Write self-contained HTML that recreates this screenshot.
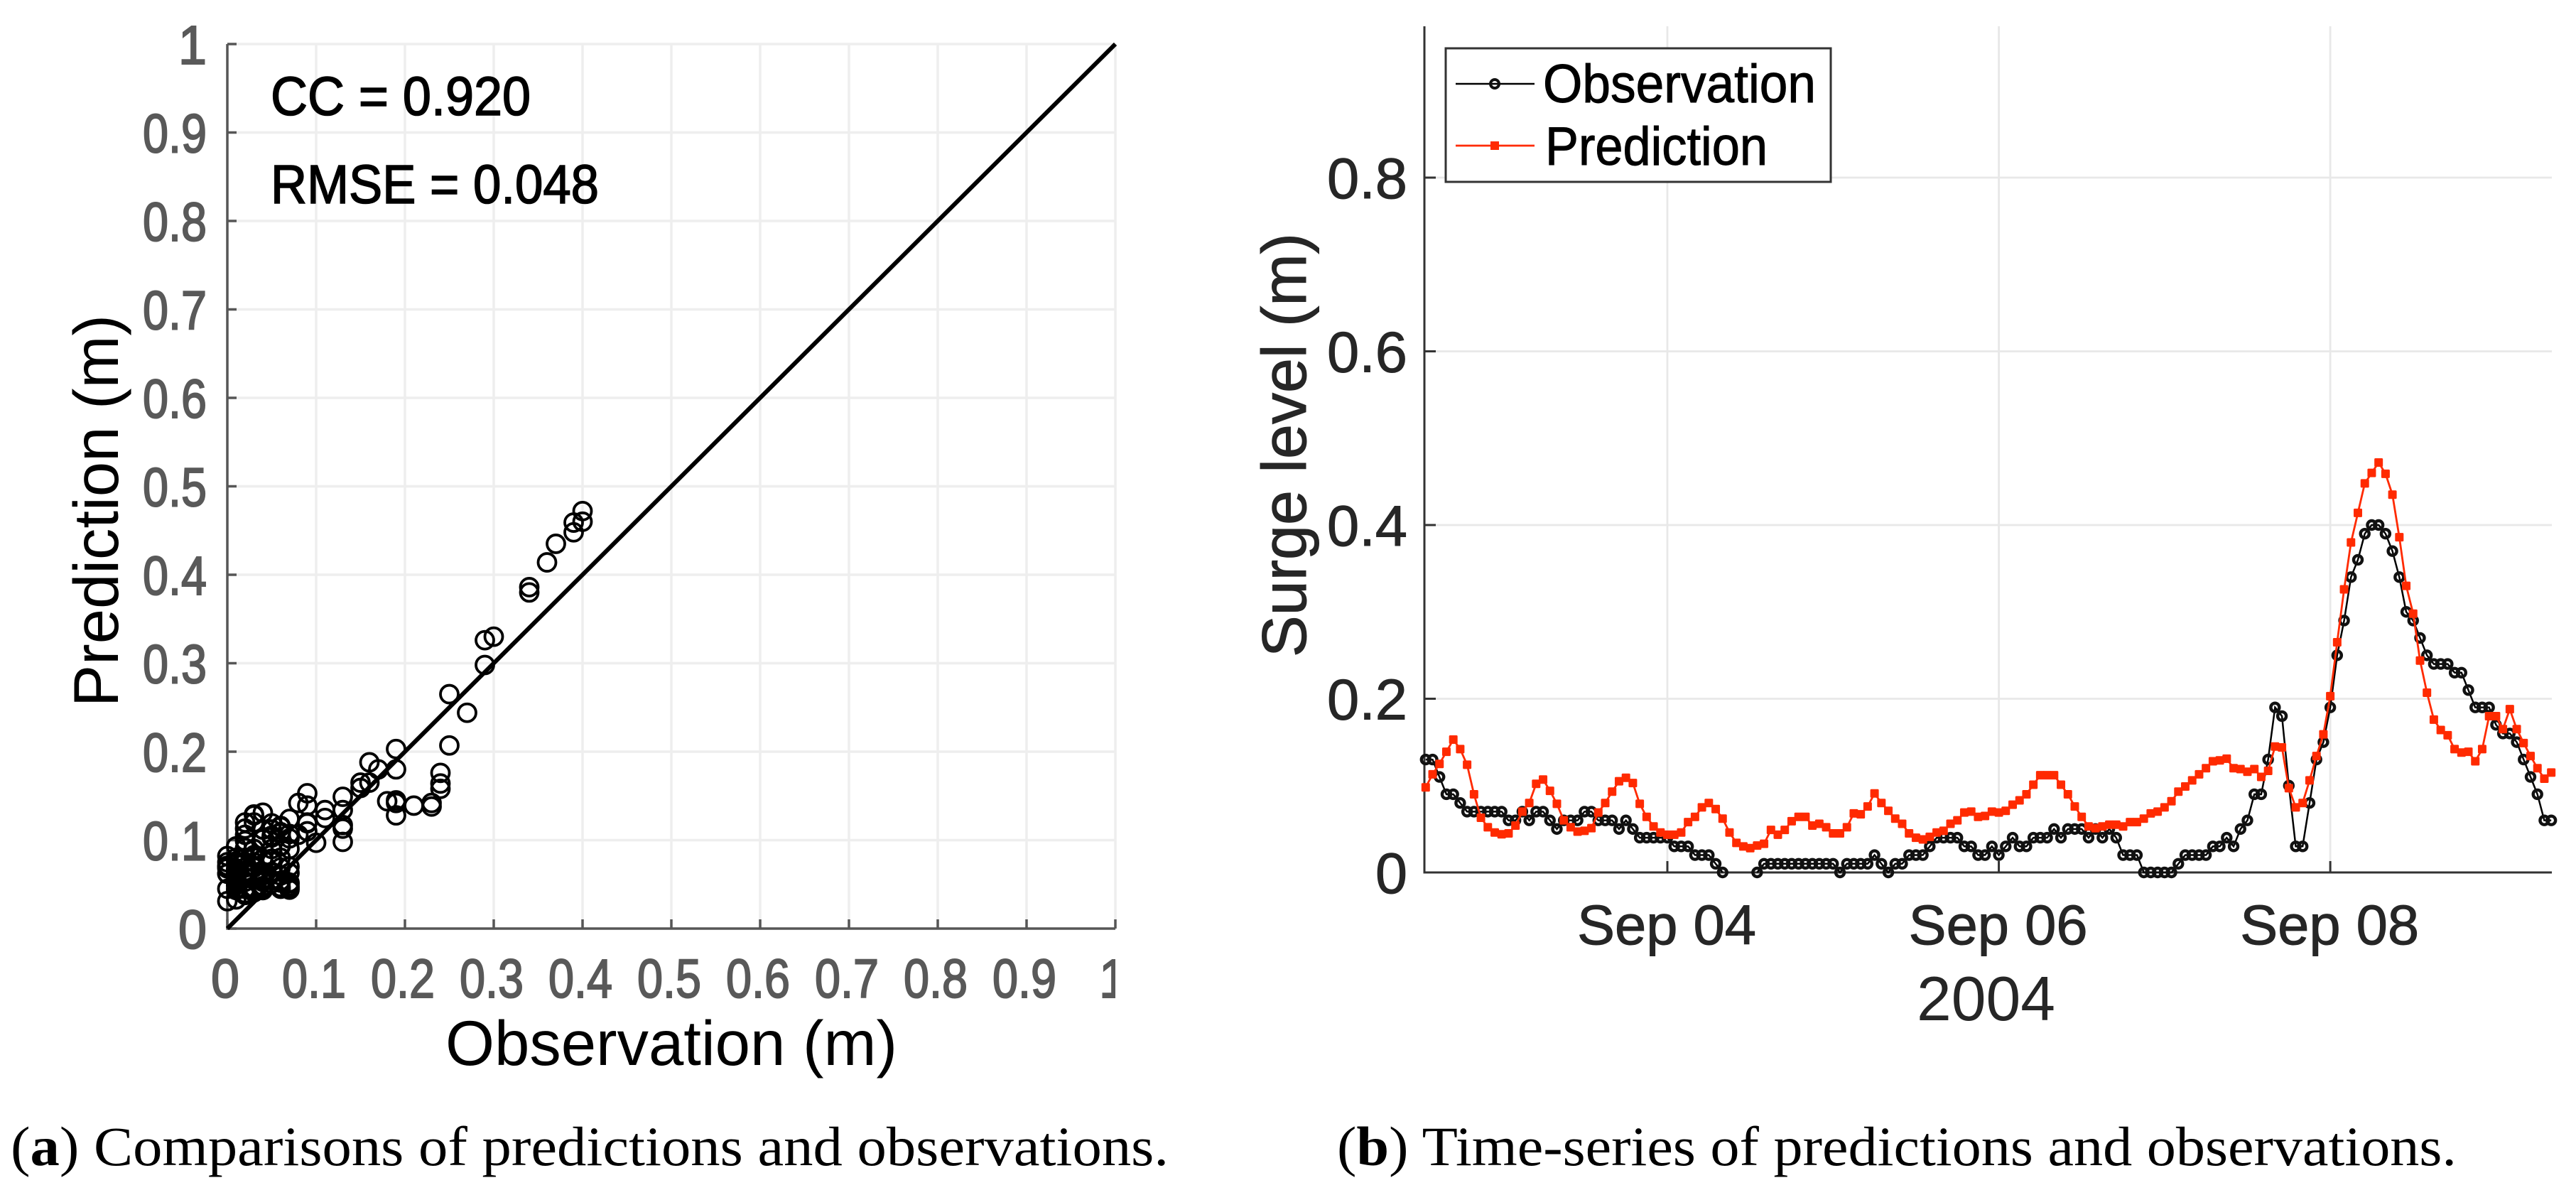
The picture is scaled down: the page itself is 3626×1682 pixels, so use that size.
<!DOCTYPE html>
<html lang="en">
<head>
<meta charset="utf-8">
<title>Surge predictions and observations</title>
<style>
html,body{margin:0;padding:0;background:#fff;}
svg{display:block;}
text{font-family:"Liberation Sans","Noto Sans CJK JP",sans-serif;}
.cap{font-family:"Liberation Serif","Noto Serif CJK SC",serif;font-size:78px;fill:#000;}
</style>
</head>
<body>
<svg id="fig" xmlns="http://www.w3.org/2000/svg" width="3626" height="1682" viewBox="0 0 3626 1682">
<defs>
<clipPath id="clipA"><rect x="100" y="0" width="1470" height="1682"/></clipPath>
</defs>
<rect x="0" y="0" width="3626" height="1682" fill="#fff"/>
<g id="panelA"></g>
<g id="panelB"></g>

<text x="381" y="162" font-size="77" fill="#000" stroke="#000" stroke-width="1.6" textLength="366" lengthAdjust="spacingAndGlyphs">CC = 0.920</text>
<text x="381" y="286" font-size="77" fill="#000" stroke="#000" stroke-width="1.6" textLength="462" lengthAdjust="spacingAndGlyphs">RMSE = 0.048</text>
<text x="627" y="1499" font-size="89" fill="#000" textLength="636" lengthAdjust="spacingAndGlyphs">Observation (m)</text>
<text transform="translate(166,995) rotate(-90)" font-size="89" fill="#000" textLength="552" lengthAdjust="spacingAndGlyphs">Prediction (m)</text>

<text transform="translate(1838,925) rotate(-90)" font-size="88" fill="#262626" stroke="#262626" stroke-width="1" textLength="597" lengthAdjust="spacingAndGlyphs">Surge level (m)</text>
<text x="2698" y="1436" font-size="88" fill="#262626" textLength="195" lengthAdjust="spacingAndGlyphs">2004</text>

<g>
<rect x="2035" y="68" width="542" height="188" fill="#fff" stroke="#333" stroke-width="3"/>
<line x1="2049" y1="118" x2="2160" y2="118" stroke="#000" stroke-width="2.5"/>
<circle cx="2104" cy="118" r="6" fill="none" stroke="#111" stroke-width="4"/>
<text x="2172" y="144" font-size="76" fill="#000" stroke="#000" stroke-width="1" textLength="384" lengthAdjust="spacingAndGlyphs">Observation</text>
<line x1="2049" y1="205" x2="2160" y2="205" stroke="#ff2a00" stroke-width="2.8"/>
<rect x="2098" y="199" width="12" height="12" fill="#ff2a00"/>
<text x="2175" y="232" font-size="76" fill="#000" stroke="#000" stroke-width="1" textLength="313" lengthAdjust="spacingAndGlyphs">Prediction</text>
</g>

<text class="cap" x="15" y="1640" textLength="1630" lengthAdjust="spacingAndGlyphs">(<tspan font-weight="bold">a</tspan>) Comparisons of predictions and observations.</text>
<text class="cap" x="1882" y="1640" textLength="1576" lengthAdjust="spacingAndGlyphs">(<tspan font-weight="bold">b</tspan>) Time-series of predictions and observations.</text>
</svg>

<script>
// Hourly series from Sep 2 2004 13:00; null = below the visible range
const observation = [
0.13,0.13,0.11,0.09,0.09,0.08,0.07,0.07,0.07,0.07,0.07,0.07,0.06,0.06,0.07,0.06,0.07,0.07,0.06,0.05,
0.06,0.06,0.06,0.07,0.07,0.06,0.06,0.06,0.05,0.06,0.05,0.04,0.04,0.04,0.04,0.04,0.03,0.03,0.03,0.02,
0.02,0.02,0.01,0,null,null,null,null,0,0.01,0.01,0.01,0.01,0.01,0.01,0.01,0.01,0.01,0.01,0.01,
0,0.01,0.01,0.01,0.01,0.02,0.01,0,0.01,0.01,0.02,0.02,0.02,0.03,0.04,0.04,0.04,0.04,0.03,0.03,
0.02,0.02,0.03,0.02,0.03,0.04,0.03,0.03,0.04,0.04,0.04,0.05,0.04,0.05,0.05,0.05,0.04,0.05,0.04,0.05,
0.04,0.02,0.02,0.02,0,0,0,0,0,0.01,0.02,0.02,0.02,0.02,0.03,0.03,0.04,0.03,0.05,0.06,
0.09,0.09,0.13,0.19,0.18,0.10,0.03,0.03,0.08,0.13,0.15,0.19,0.25,0.29,0.34,0.36,0.39,0.40,0.40,0.39,
0.37,0.34,0.30,0.29,0.27,0.25,0.24,0.24,0.24,0.23,0.23,0.21,0.19,0.19,0.19,0.17,0.16,0.16,0.15,0.13,
0.11,0.09,0.06,0.06];
const prediction = [
0.098,0.113,0.125,0.139,0.153,0.142,0.124,0.090,0.063,0.052,0.046,0.044,0.045,0.054,0.070,0.080,0.102,0.107,0.094,0.079,
0.060,0.052,0.047,0.048,0.051,0.069,0.080,0.093,0.105,0.109,0.103,0.079,0.064,0.053,0.046,0.0435,0.0435,0.046,0.058,0.064,
0.075,0.080,0.073,0.062,0.046,0.034,0.030,0.028,0.031,0.033,0.049,0.0435,0.049,0.059,0.064,0.064,0.054,0.056,0.052,0.045,
0.045,0.052,0.068,0.067,0.076,0.091,0.080,0.071,0.062,0.056,0.045,0.040,0.038,0.041,0.046,0.048,0.056,0.060,0.069,0.070,
0.064,0.065,0.070,0.069,0.071,0.078,0.083,0.090,0.101,0.112,0.112,0.112,0.101,0.090,0.076,0.064,0.053,0.051,0.053,0.055,
0.055,0.053,0.058,0.058,0.062,0.068,0.070,0.075,0.082,0.093,0.099,0.106,0.113,0.120,0.128,0.129,0.131,0.120,0.119,0.116,
0.119,0.110,0.117,0.145,0.144,0.097,0.075,0.080,0.106,0.134,0.159,0.203,0.265,0.326,0.380,0.414,0.448,0.460,0.472,0.459,
0.435,0.386,0.330,0.298,0.244,0.207,0.176,0.164,0.158,0.142,0.138,0.139,0.128,0.142,0.180,0.180,0.165,0.188,0.165,0.149,
0.134,0.120,0.108,0.115];
const scatterTicks = [0,0.1,0.2,0.3,0.4,0.5,0.6,0.7,0.8,0.9,1];
const scatterTickLabels = ["0","0.1","0.2","0.3","0.4","0.5","0.6","0.7","0.8","0.9","1"];
const dateTickHours = [35,83,131];
const dateTickLabels = ["Sep 04","Sep 06","Sep 08"];
const levelTicks = [0,0.2,0.4,0.6,0.8];
const levelTickLabels = ["0","0.2","0.4","0.6","0.8"];
const identityLine = [0,1];

const NS = "http://www.w3.org/2000/svg";
function mk(parent, tag, attrs){
  const el = document.createElementNS(NS, tag);
  for (const k in attrs) el.setAttribute(k, attrs[k]);
  parent.appendChild(el);
  return el;
}

/* ---------- panel (a) scatter ---------- */
const A = {x0:320, x1:1570, y0:1307, y1:62};
function ax(v){ return A.x0 + (A.x1 - A.x0) * v; }
function ay(v){ return A.y0 - (A.y0 - A.y1) * v; }
const pa = document.getElementById("panelA");

scatterTicks.forEach(function(t){
  if (t === 0) return;
  const gv = mk(pa, "line", {x1:ax(t), x2:ax(t), y1:A.y0, y2:A.y1, stroke:"#eeeeee", "stroke-width":3.5});
  
  
  const gh = mk(pa, "line", {x1:A.x0, x2:A.x1, y1:ay(t), y2:ay(t), stroke:"#eeeeee", "stroke-width":3.5});
  
  
});
const axisA = mk(pa, "path", {d:"M"+ax(0)+" "+ay(1)+"V"+ay(0)+"H"+ax(1), fill:"none", stroke:"#565656", "stroke-width":3.5});


scatterTicks.forEach(function(t, i){
  const tx = mk(pa, "line", {x1:ax(t), x2:ax(t), y1:A.y0, y2:A.y0-13, stroke:"#565656", "stroke-width":3.5});
  
  
  const ty = mk(pa, "line", {x1:A.x0, x2:A.x0+13, y1:ay(t), y2:ay(t), stroke:"#565656", "stroke-width":3.5});
  
  
  const lab = scatterTickLabels[i];
  const w = lab.length === 1 ? 40 : 90;
  const lx = mk(pa, "text", {x:ax(t)-w/2-3, y:1404, "font-size":77, fill:"#595959", stroke:"#595959", "stroke-width":2, textLength:w, lengthAdjust:"spacingAndGlyphs", "clip-path":"url(#clipA)"});
  lx.textContent = lab;
  
  
  const ly = mk(pa, "text", {x:291-w, y:ay(t)+28, "font-size":77, fill:"#595959", stroke:"#595959", "stroke-width":2, textLength:w, lengthAdjust:"spacingAndGlyphs"});
  ly.textContent = lab;
  
  
});
observation.forEach(function(o, i){
  if (o === null) return;
  const c = mk(pa, "circle", {cx:ax(o), cy:ay(prediction[i]), r:12.5, fill:"none", stroke:"#000", "stroke-width":3.8});
  
  
});
const diag = mk(pa, "line", {x1:ax(identityLine[0]), y1:ay(identityLine[0]), x2:ax(identityLine[1]), y2:ay(identityLine[1]), stroke:"#000", "stroke-width":6});



/* ---------- panel (b) time series ---------- */
const B = {x0:2005, x1:3592, y0:1228, y1:37, hourPx:9.72, tickHour:35, tickX:2347, unitPx:1222.5};
function bx(h){ return B.tickX + (h - B.tickHour) * B.hourPx; }
function by(v){ return B.y0 - v * B.unitPx; }
const pb = document.getElementById("panelB");

dateTickHours.forEach(function(h, i){
  const g = mk(pb, "line", {x1:bx(h), x2:bx(h), y1:B.y0, y2:B.y1, stroke:"#e8e8e8", "stroke-width":2.8});
  
  
  const t = mk(pb, "line", {x1:bx(h), x2:bx(h), y1:B.y0, y2:B.y0-16, stroke:"#333", "stroke-width":3});
  
  
  const l = mk(pb, "text", {x:bx(h)-127, y:1329, "font-size":79, fill:"#262626", stroke:"#262626", "stroke-width":1, textLength:252, lengthAdjust:"spacingAndGlyphs"});
  l.textContent = dateTickLabels[i];
  
  
});
levelTicks.forEach(function(v, i){
  if (v !== 0) {
    const g = mk(pb, "line", {x1:B.x0, x2:B.x1, y1:by(v), y2:by(v), stroke:"#e8e8e8", "stroke-width":2.8});
    
    
    const t = mk(pb, "line", {x1:B.x0, x2:B.x0+16, y1:by(v), y2:by(v), stroke:"#333", "stroke-width":3});
    
    
  }
  const lab = levelTickLabels[i];
  const w = lab.length === 1 ? 45 : 113;
  const l = mk(pb, "text", {x:1981-w, y:by(v)+29, "font-size":81, fill:"#262626", stroke:"#262626", "stroke-width":1, textLength:w, lengthAdjust:"spacingAndGlyphs"});
  l.textContent = lab;
  
  
});
const axisB = mk(pb, "path", {d:"M"+B.x0+" "+B.y1+"V"+B.y0+"H"+B.x1, fill:"none", stroke:"#333", "stroke-width":3});



function linePath(arr){
  let d = "", pen = false;
  arr.forEach(function(v, i){
    if (v === null) { pen = false; return; }
    d += (pen ? "L" : "M") + bx(i).toFixed(1) + " " + by(v).toFixed(1);
    pen = true;
  });
  return d;
}
const obsLine = mk(pb, "path", {d:linePath(observation), fill:"none", stroke:"#000", "stroke-width":2.5});


observation.forEach(function(v, i){
  if (v === null) return;
  const c = mk(pb, "circle", {cx:bx(i), cy:by(v), r:6, fill:"none", stroke:"#111", "stroke-width":4.4});
  
  
});
const predLine = mk(pb, "path", {d:linePath(prediction), fill:"none", stroke:"#ff2a00", "stroke-width":2.8});


prediction.forEach(function(v, i){
  const s = mk(pb, "rect", {x:bx(i)-6, y:by(v)-6, width:12, height:12, fill:"#ff2a00", rx:1.5});
  
  
});
</script>
</body>
</html>
